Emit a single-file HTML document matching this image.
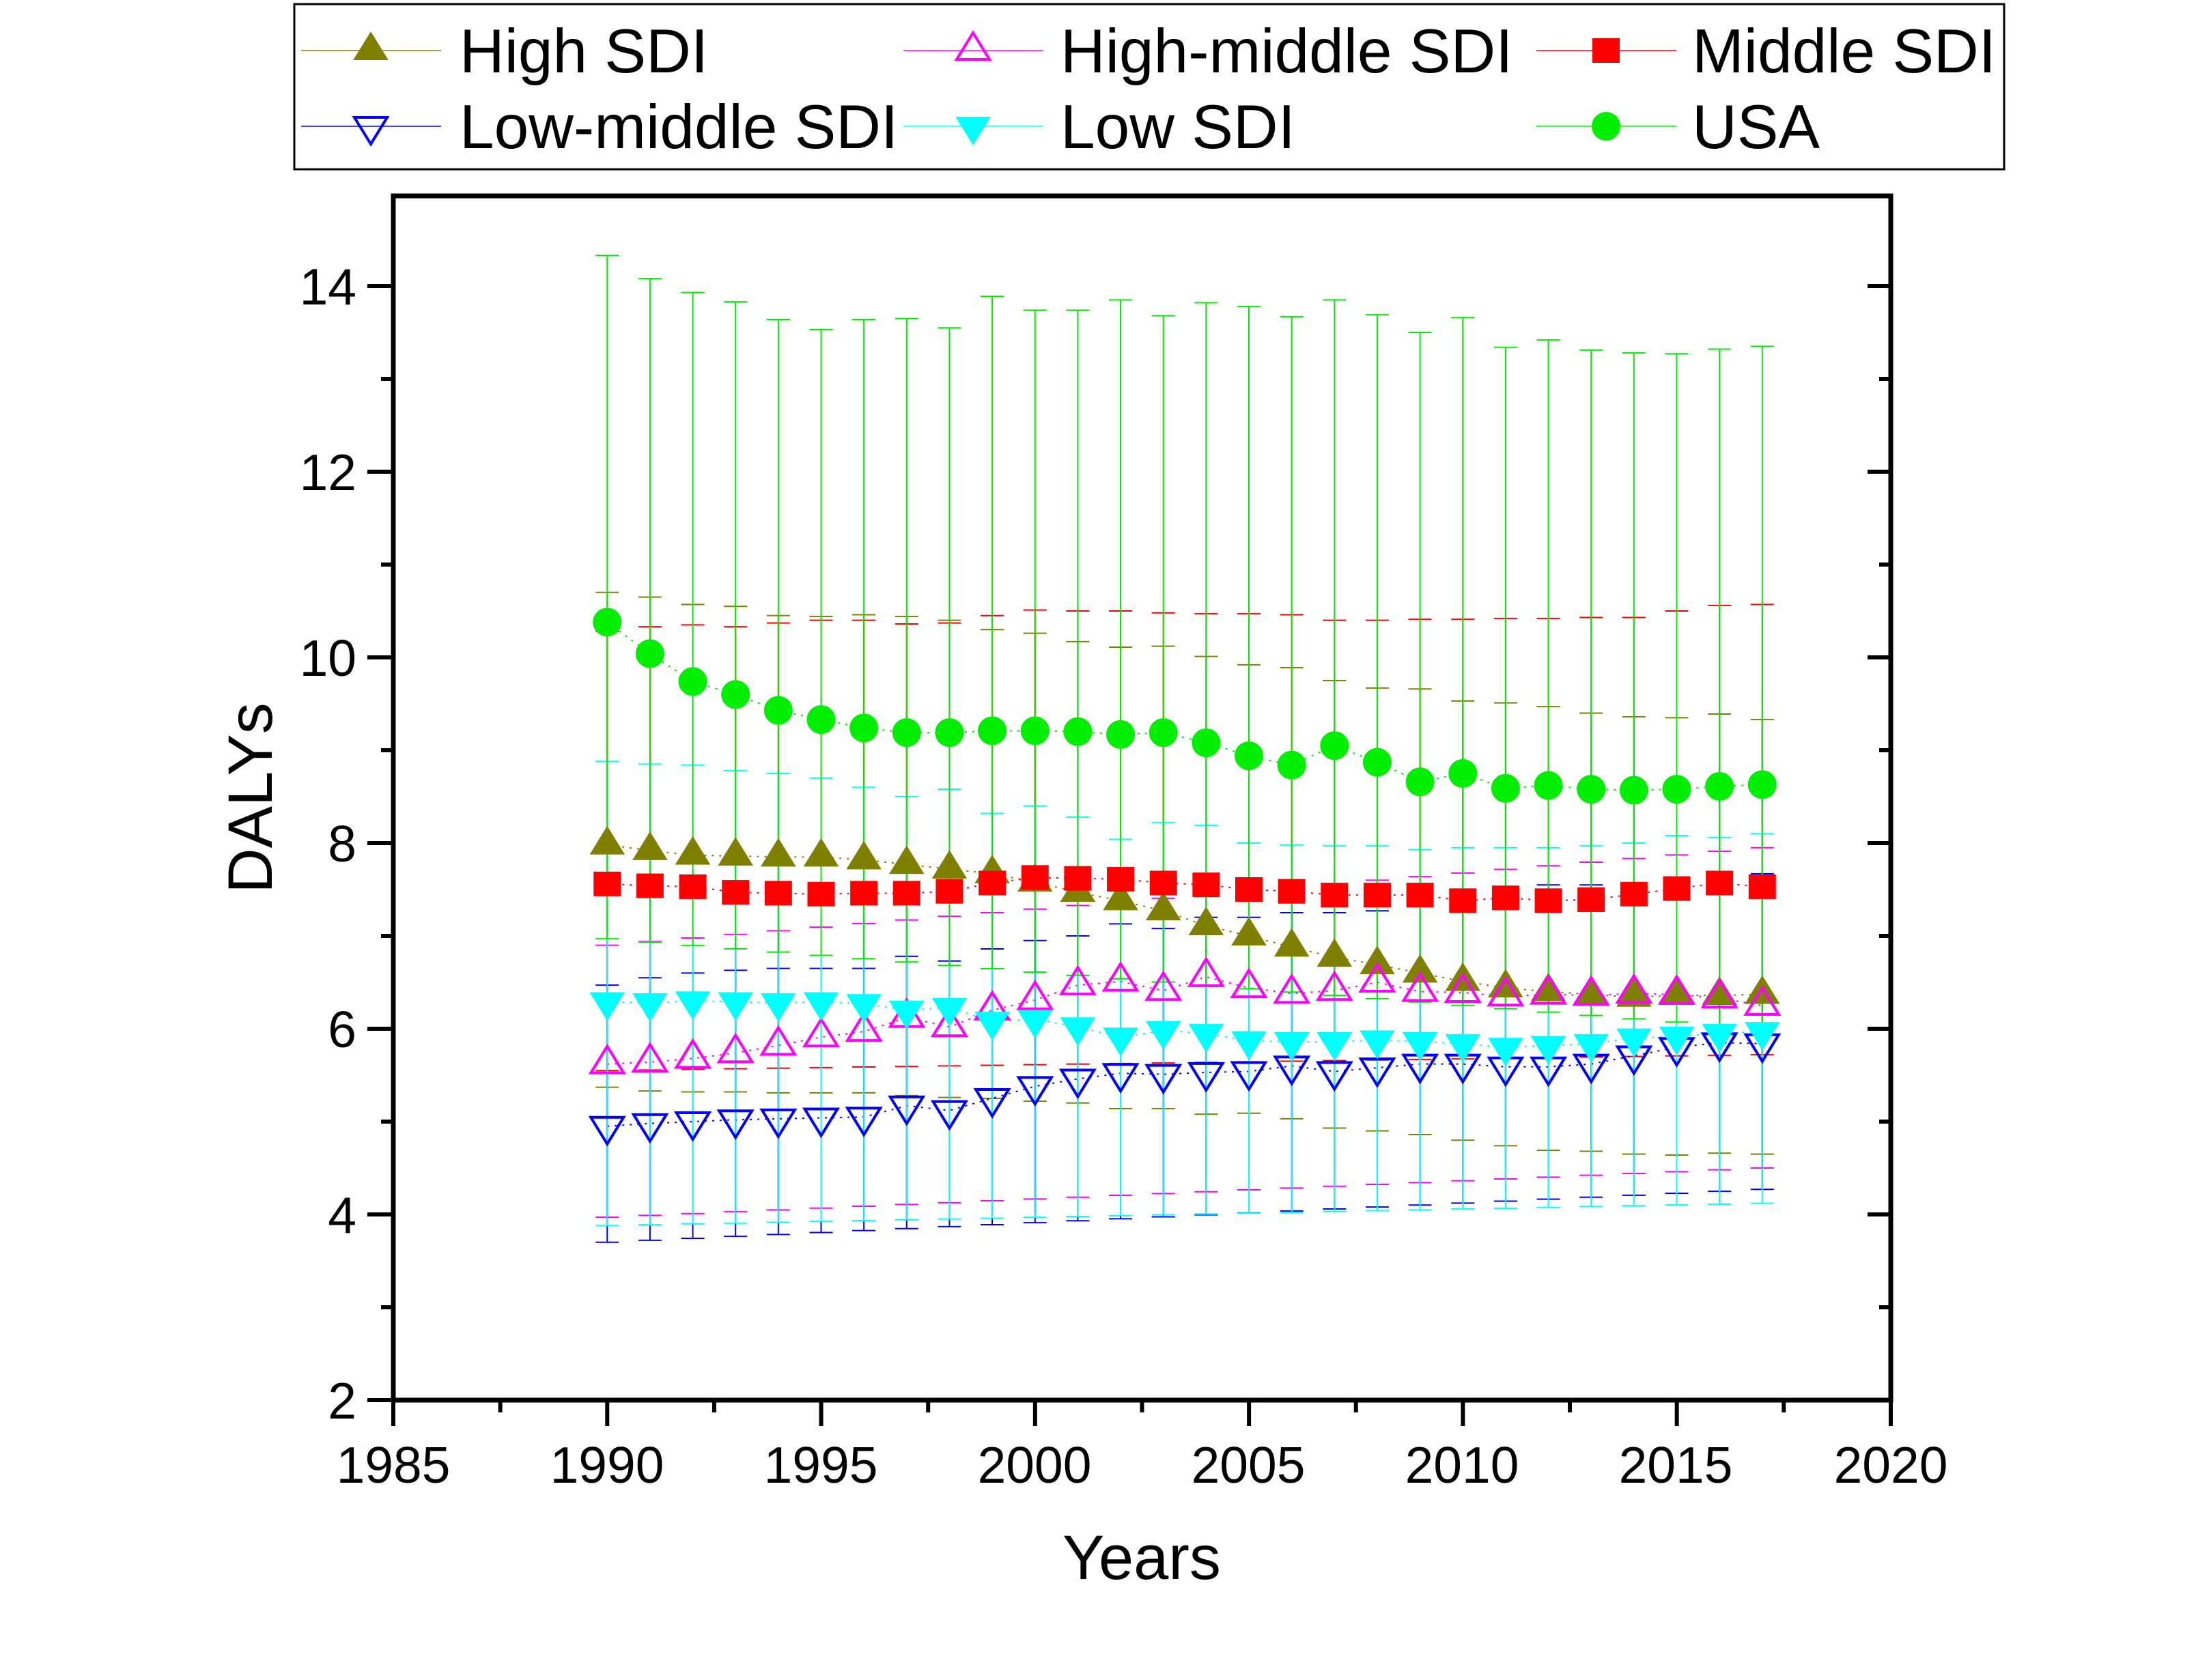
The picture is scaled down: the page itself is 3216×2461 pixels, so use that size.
<!DOCTYPE html>
<html><head><meta charset="utf-8"><style>
html,body{margin:0;padding:0;background:#fff;}
svg{display:block;}
text{font-family:"Liberation Sans",Arial,sans-serif;fill:#000;}
</style></head><body>
<svg id="s" width="3216" height="2461" viewBox="0 0 3216 2461" xmlns="http://www.w3.org/2000/svg">
<rect width="3216" height="2461" fill="#fff"/>
<g id="data"></g>
<g id="axes" stroke="#000" stroke-width="7" fill="none">
<rect x="576" y="287" width="2193" height="1764"/>
</g>
<g id="ticks" stroke="#000" stroke-width="6"></g>
<g font-size="75" text-anchor="middle">
<text x="576" y="2172">1985</text><text x="889" y="2172">1990</text><text x="1202" y="2172">1995</text>
<text x="1515" y="2172">2000</text><text x="1828" y="2172">2005</text><text x="2141" y="2172">2010</text>
<text x="2454" y="2172">2015</text><text x="2769" y="2172">2020</text>
</g>
<g font-size="75" text-anchor="end">
<text x="522" y="2078">2</text><text x="522" y="1806">4</text><text x="522" y="1534">6</text>
<text x="522" y="1262">8</text><text x="522" y="990">10</text><text x="522" y="718">12</text><text x="522" y="446">14</text>
</g>
<text x="1672" y="2313" font-size="92" text-anchor="middle">Years</text>
<text transform="translate(398,1169) rotate(-90)" font-size="92" text-anchor="middle">DALYs</text>
<rect x="431" y="6" width="2504" height="242" fill="#fff" stroke="#000" stroke-width="3"/>
<g id="leg"></g>
<g font-size="91">
<text x="673" y="106">High SDI</text><text x="1553" y="106">High-middle SDI</text><text x="2478" y="106">Middle SDI</text>
<text x="673" y="217">Low-middle SDI</text><text x="1553" y="217">Low SDI</text><text x="2478" y="217">USA</text>
</g>
</svg>
<script>
const X=y=>576+(y-1985)*62.65, Y=v=>2051-(v-2)*136;
const NS="http://www.w3.org/2000/svg";
function el(p,t,a){const e=document.createElementNS(NS,t);for(const k in a)e.setAttribute(k,a[k]);p.appendChild(e);return e;}
const tk=document.getElementById('ticks');
for(let i=0;i<=14;i++){const x=576+i*156.64;const maj=i%2==0;el(tk,'line',{x1:x,y1:2051,x2:x,y2:2051+(maj?38:18)});}
for(let v=2;v<=14;v++){const y=Y(v);const maj=v%2==0;el(tk,'line',{x1:576,y1:y,x2:576-(maj?38:18),y2:y});el(tk,'line',{x1:2769,y1:y,x2:2769-(maj?34:17),y2:y});}
function lin(a,b,n){return Array.from({length:n},(_,i)=>a+(b-a)*i/(n-1));}
const S=[
{c:'#808000',m:'tri',f:1,v:[7.98,7.92,7.87,7.86,7.85,7.85,7.82,7.77,7.72,7.67,7.58,7.47,7.38,7.27,7.11,7.00,6.88,6.77,6.69,6.60,6.51,6.44,6.40,6.37,6.34,6.36,6.36,6.37],
 u:[10.70,10.65,10.57,10.55,10.45,10.44,10.46,10.44,10.40,10.30,10.26,10.17,10.11,10.12,10.01,9.92,9.89,9.75,9.67,9.66,9.53,9.51,9.47,9.40,9.36,9.35,9.39,9.33],
 l:[5.37,5.33,5.32,5.32,5.31,5.31,5.31,5.28,5.26,5.25,5.22,5.20,5.14,5.14,5.08,5.09,5.03,4.93,4.90,4.86,4.80,4.74,4.69,4.68,4.65,4.64,4.66,4.65]},
{c:'#ff00ff',m:'tri',f:0,v:[5.62,5.64,5.68,5.74,5.82,5.91,5.97,6.12,6.02,6.20,6.31,6.47,6.51,6.41,6.56,6.44,6.38,6.41,6.50,6.40,6.39,6.35,6.37,6.36,6.38,6.37,6.33,6.25],
 u:lin(6.9,7.95,28),l:lin(3.97,4.5,28)},
{c:'#ff0000',m:'sq',f:1,v:[7.56,7.54,7.53,7.47,7.46,7.45,7.46,7.46,7.48,7.57,7.63,7.62,7.61,7.57,7.55,7.50,7.48,7.44,7.44,7.44,7.38,7.41,7.38,7.39,7.45,7.51,7.57,7.53],
 u:[10.28,10.33,10.35,10.33,10.37,10.40,10.40,10.36,10.37,10.45,10.51,10.50,10.50,10.48,10.47,10.47,10.46,10.40,10.40,10.41,10.41,10.42,10.42,10.43,10.43,10.50,10.56,10.57],
 l:lin(5.55,5.72,28)},
{c:'#0000ff',m:'dtri',f:0,v:[4.95,4.98,5.0,5.02,5.03,5.04,5.05,5.17,5.12,5.25,5.38,5.46,5.52,5.51,5.53,5.54,5.60,5.54,5.58,5.62,5.62,5.59,5.59,5.62,5.71,5.80,5.85,5.84],
 u:[6.47,6.55,6.6,6.63,6.65,6.65,6.65,6.78,6.73,6.86,6.95,7.0,7.13,7.08,7.2,7.2,7.25,7.25,7.27,7.35,7.45,7.5,7.55,7.55,7.55,7.6,7.65,7.67],l:lin(3.70,4.27,28)},
{c:'#00ffff',m:'dtri',f:1,v:[6.29,6.28,6.30,6.29,6.28,6.29,6.27,6.20,6.23,6.08,6.10,6.02,5.91,5.98,5.95,5.87,5.86,5.86,5.88,5.86,5.84,5.80,5.82,5.84,5.90,5.92,5.95,5.97],
 u:[8.88,8.85,8.84,8.78,8.75,8.70,8.60,8.50,8.58,8.32,8.40,8.28,8.04,8.22,8.19,8.00,7.98,7.97,7.97,7.93,7.95,7.95,7.95,7.97,8.00,8.08,8.06,8.10],l:lin(3.88,4.12,28)},
{c:'#00ee00',m:'ci',f:1,v:[10.38,10.04,9.74,9.60,9.43,9.33,9.24,9.19,9.19,9.21,9.21,9.20,9.17,9.19,9.08,8.94,8.84,9.05,8.87,8.66,8.75,8.59,8.62,8.58,8.57,8.58,8.61,8.63],
 u:[14.33,14.08,13.93,13.83,13.64,13.53,13.64,13.65,13.55,13.89,13.74,13.74,13.85,13.68,13.82,13.78,13.67,13.85,13.69,13.50,13.66,13.34,13.42,13.31,13.28,13.27,13.32,13.35],
 l:lin(6.97,6.0,28)}];
function marker(g,m,x,y,c,f){
 const st=f?{fill:c,stroke:c,'stroke-width':2}:{fill:'none',stroke:c,'stroke-width':4};
 if(m=='tri')el(g,'polygon',Object.assign({points:`${x},${y-26} ${x-24},${y+13} ${x+24},${y+13}`},st));
 else if(m=='dtri')el(g,'polygon',Object.assign({points:`${x},${y+26} ${x-24},${y-13} ${x+24},${y-13}`},st));
 else if(m=='sq')el(g,'rect',Object.assign({x:x-19,y:y-17,width:38,height:34},st));
 else el(g,'circle',Object.assign({cx:x,cy:y,r:20},st));
}
const D=document.getElementById('data');
S.forEach(s=>{
 let pts=s.v.map((v,i)=>X(1990+i)+','+Y(v)).join(' ');
 el(D,'polyline',{points:pts,fill:'none',stroke:s.c,'stroke-width':2,'stroke-dasharray':'3,8'});
 s.v.forEach((v,i)=>{const x=X(1990+i);
  el(D,'line',{x1:x,y1:Y(s.u[i]),x2:x,y2:Y(s.l[i]),stroke:s.c,'stroke-width':2});
  el(D,'line',{x1:x-17,y1:Y(s.u[i]),x2:x+17,y2:Y(s.u[i]),stroke:s.c,'stroke-width':2});
  el(D,'line',{x1:x-17,y1:Y(s.l[i]),x2:x+17,y2:Y(s.l[i]),stroke:s.c,'stroke-width':2});
 });
});
S.forEach(s=>s.v.forEach((v,i)=>marker(D,s.m,X(1990+i),Y(v),s.c,s.f)));
const L=document.getElementById('leg');
const pos=[[441,74],[1323,74],[2250,74],[441,185],[1323,185],[2250,185]];
S.forEach((s,i)=>{const [x,y]=pos[i];el(L,'line',{x1:x,y1:y,x2:x+205,y2:y,stroke:s.c,'stroke-width':1.5});marker(L,s.m,x+102,y,s.c,s.f);});
</script>
</body></html>
